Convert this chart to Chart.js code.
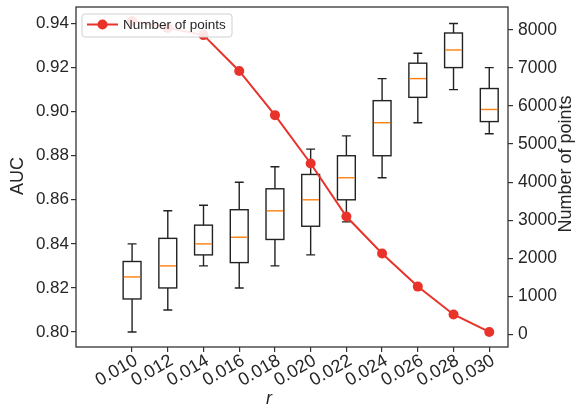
<!DOCTYPE html>
<html>
<head>
<meta charset="utf-8">
<script src="https://cdn.jsdelivr.net/npm/chart.js@4.4.0/dist/chart.umd.min.js"></script>
<style>
  html, body { margin: 0; padding: 0; background: #fff; }
  canvas { display: block; }
</style>
</head>
<body>
<canvas id="chart" width="583" height="410"></canvas>
<script>
// r values (x categories)
var r_list = [0.010, 0.012, 0.014, 0.016, 0.018, 0.020, 0.022, 0.024, 0.026, 0.028, 0.030];
// number of points (right axis)
var points_list = [8230, 8050, 7860, 6920, 5760, 4490, 3100, 2130, 1260, 530, 70];
// AUC box stats (left axis)
var whisk_low  = [0.800, 0.810, 0.830, 0.820, 0.830, 0.835, 0.850, 0.870, 0.895, 0.910, 0.890];
var q1_list    = [0.815, 0.820, 0.835, 0.8315, 0.842, 0.848, 0.860, 0.880, 0.9065, 0.920, 0.8955];
var med_list   = [0.825, 0.830, 0.840, 0.843, 0.855, 0.860, 0.870, 0.895, 0.915, 0.928, 0.901];
var q3_list    = [0.832, 0.8425, 0.8485, 0.8555, 0.865, 0.8715, 0.880, 0.905, 0.922, 0.9357, 0.9105];
var whisk_high = [0.840, 0.855, 0.8575, 0.868, 0.875, 0.883, 0.889, 0.915, 0.9265, 0.940, 0.920];
var auc_ticks = [0.80, 0.82, 0.84, 0.86, 0.88, 0.90, 0.92, 0.94];
var count_ticks = [0, 1000, 2000, 3000, 4000, 5000, 6000, 7000, 8000];

var FONT = 'Liberation Sans';
var INK = '#262626';
var RED = '#e8322a';
Chart.defaults.font.family = FONT;
Chart.defaults.color = INK;

// boxes drawn under the line, through the chart's scales
var boxPlugin = {
  id: 'boxes',
  beforeDatasetsDraw: function(chart) {
    var ctx = chart.ctx, x = chart.scales.x, y = chart.scales.y;
    ctx.save();
    for (var i = 0; i < r_list.length; i++) {
      var cx = x.getPixelForValue(r_list[i]);
      var bl = x.getPixelForValue(r_list[i] - 0.0005), br = x.getPixelForValue(r_list[i] + 0.0005);
      var cl = x.getPixelForValue(r_list[i] - 0.00025), cr = x.getPixelForValue(r_list[i] + 0.00025);
      var yLo = y.getPixelForValue(whisk_low[i]), yQ1 = y.getPixelForValue(q1_list[i]);
      var yMed = y.getPixelForValue(med_list[i]), yQ3 = y.getPixelForValue(q3_list[i]);
      var yHi = y.getPixelForValue(whisk_high[i]);
      ctx.strokeStyle = '#222';
      ctx.lineWidth = 1.4;
      ctx.beginPath();
      ctx.moveTo(cx, yQ1); ctx.lineTo(cx, yLo);
      ctx.moveTo(cl, yLo); ctx.lineTo(cr, yLo);
      ctx.moveTo(cx, yQ3); ctx.lineTo(cx, yHi);
      ctx.moveTo(cl, yHi); ctx.lineTo(cr, yHi);
      ctx.stroke();
      ctx.strokeRect(bl, yQ3, br - bl, yQ1 - yQ3);
      ctx.strokeStyle = '#ff7f0e';
      ctx.lineWidth = 1.4;
      ctx.beginPath();
      ctx.moveTo(bl + 0.7, yMed); ctx.lineTo(br - 0.7, yMed);
      ctx.stroke();
    }
    ctx.restore();
  },
  afterDraw: function(chart) {
    var ctx = chart.ctx, a = chart.chartArea;
    ctx.save();
    // frame
    ctx.strokeStyle = '#333';
    ctx.lineWidth = 1.3;
    ctx.strokeRect(a.left, a.top, a.right - a.left, a.bottom - a.top);
    // legend, on top of the line
    var lx = a.left + 6, ly = a.top + 7, lw = 150, lh = 23;
    ctx.beginPath();
    ctx.roundRect(lx, ly, lw, lh, 3);
    ctx.fillStyle = 'rgba(255,255,255,0.88)';
    ctx.fill();
    ctx.strokeStyle = '#d0d0d0';
    ctx.lineWidth = 1;
    ctx.stroke();
    var my = ly + 10.5;
    ctx.strokeStyle = RED;
    ctx.lineWidth = 2;
    ctx.beginPath();
    ctx.moveTo(lx + 5, my); ctx.lineTo(lx + 36, my);
    ctx.stroke();
    ctx.fillStyle = RED;
    ctx.beginPath();
    ctx.arc(lx + 20.5, my, 5, 0, Math.PI * 2);
    ctx.fill();
    ctx.fillStyle = INK;
    ctx.font = '13.5px "' + FONT + '"';
    ctx.textBaseline = 'middle';
    ctx.textAlign = 'left';
    ctx.fillText('Number of points', lx + 41, my + 0.5);

    // axis titles
    ctx.textAlign = 'center';
    ctx.font = '18px "' + FONT + '"';
    ctx.save();
    ctx.translate(18.5, 176);
    ctx.rotate(-Math.PI / 2);
    ctx.fillText('AUC', 0, 0);
    ctx.restore();
    ctx.save();
    ctx.translate(566, 164);
    ctx.rotate(-Math.PI / 2);
    ctx.fillText('Number of points', 0, 0);
    ctx.restore();
    ctx.font = 'italic 18px "' + FONT + '"';
    ctx.fillText('r', 269, 399);
    ctx.restore();
  }
};

var gridOpts = { drawOnChartArea: false, drawTicks: true, tickLength: 5, color: '#333', lineWidth: 1.2 };

function noPadV(s, w) { s.width = w; s.paddingTop = 0; s.paddingBottom = 0; }

var chart = new Chart(document.getElementById('chart'), {
  type: 'line',
  data: {
    datasets: [{
      label: 'Number of points',
      data: r_list.map(function(r, i) { return { x: r, y: points_list[i] }; }),
      yAxisID: 'y1',
      borderColor: RED,
      backgroundColor: RED,
      borderWidth: 2,
      pointRadius: 5,
      pointBorderWidth: 0,
      pointBackgroundColor: RED,
      fill: false,
      tension: 0
    }]
  },
  options: {
    responsive: false,
    animation: false,
    devicePixelRatio: 1,
    layout: { padding: { top: 7, left: 0, right: 0, bottom: 0 } },
    plugins: { legend: { display: false }, tooltip: { enabled: false } },
    scales: {
      x: {
        type: 'linear',
        min: 0.00686,
        max: 0.03105,
        afterBuildTicks: function(s) { s.ticks = r_list.map(function(v) { return { value: v }; }); },
        afterFit: function(s) { s.height = 63; s.paddingLeft = 0; s.paddingRight = 0; },
        grid: gridOpts,
        border: { display: false },
        ticks: {
          autoSkip: false,
          minRotation: 30,
          maxRotation: 30,
          labelOffset: 4,
          padding: -2,
          color: INK,
          font: { size: 18 },
          callback: function(v) { return Number(v).toFixed(3); }
        }
      },
      y: {
        position: 'left',
        min: 0.7932,
        max: 0.9475,
        afterBuildTicks: function(s) { s.ticks = auc_ticks.map(function(v) { return { value: v }; }); },
        afterFit: function(s) { noPadV(s, 76); },
        grid: gridOpts,
        border: { display: false },
        ticks: {
          padding: 2,
          color: INK,
          font: { size: 17 },
          callback: function(v) { return Number(v).toFixed(2); }
        }
      },
      y1: {
        position: 'right',
        min: -325,
        max: 8598,
        afterBuildTicks: function(s) { s.ticks = count_ticks.map(function(v) { return { value: v }; }); },
        afterFit: function(s) { noPadV(s, 75); },
        grid: gridOpts,
        border: { display: false },
        ticks: {
          padding: 5,
          color: INK,
          font: { size: 17.5 },
          callback: function(v) { return String(v); }
        }
      }
    }
  },
  plugins: [boxPlugin]
});
</script>
</body>
</html>
